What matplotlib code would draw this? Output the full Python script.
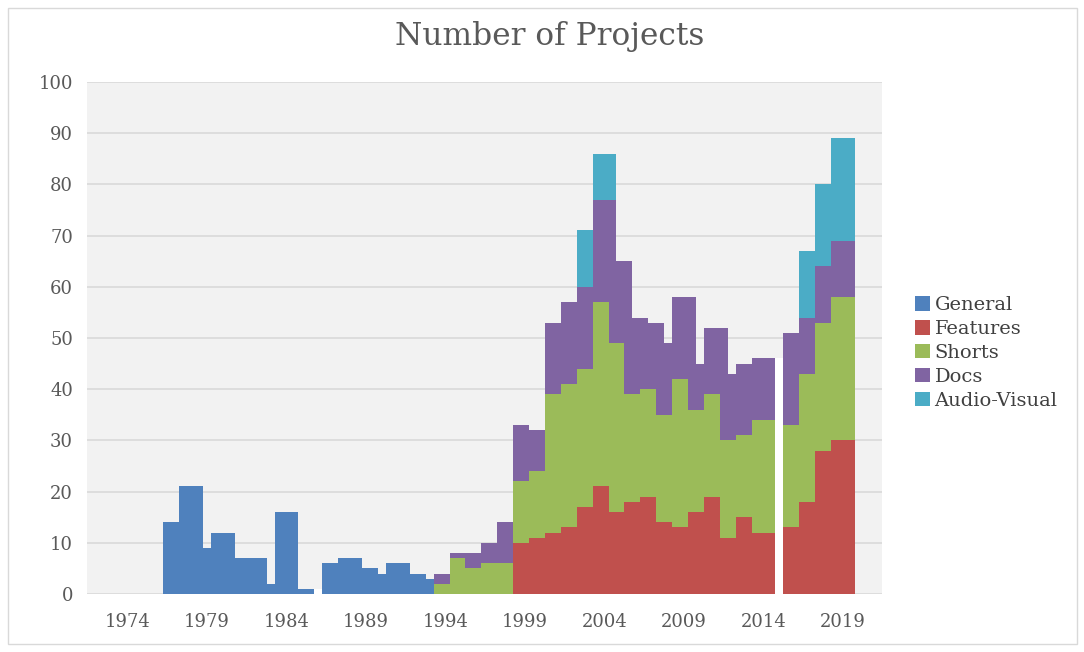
import numpy as np
import pandas as pd
import matplotlib
matplotlib.use("Agg")
import matplotlib.pyplot as plt
from matplotlib.patches import Patch, Rectangle

# half-year periods, 1976.5 ... 2019.5
periods = np.arange(1976.5, 2019.51, 0.5)

# each series starts at its own period
general_start = 1976.5
general = [14, 14, 21, 21, 21, 9, 12, 12, 12, 7, 7, 7, 7, 2, 16, 16, 16, 1, 1, 0,
           6, 6, 7, 7, 7, 5, 5, 4, 6, 6, 6, 4, 4, 3]

features_start = 1998.5
features = [10, 10, 11, 11, 12, 12, 13, 13, 17, 17, 21, 21, 16, 16, 18, 18, 19, 19,
            14, 14, 13, 13, 16, 16, 19, 19, 11, 11, 15, 15, 12, 12, 12, 0,
            13, 13, 18, 18, 28, 28, 30, 30, 30]

shorts_start = 1993.5
shorts = [2, 2, 7, 7, 5, 5, 6, 6, 6, 6, 12, 12, 13, 13, 27, 27, 28, 28, 27, 27,
          36, 36, 33, 33, 21, 21, 21, 21, 21, 21, 29, 29, 20, 20, 20, 20, 19, 19,
          16, 16, 22, 22, 22, 0, 20, 20, 25, 25, 25, 25, 28, 28, 28]

docs_start = 1993.5
docs = [2, 2, 1, 1, 3, 3, 4, 4, 8, 8, 11, 11, 8, 8, 14, 14, 16, 16, 16, 16,
        20, 20, 28, 16, 26, 15, 14, 13, 18, 14, 16, 16, 22, 9, 13, 13, 22, 13,
        14, 14, 12, 12, 12, 0, 18, 18, 11, 11, 11, 11, 11, 11, 11]

av_start = 2002.5
av = [11, 11, 9, 9, 9, 0, 0, 0, 0, 0, 0, 0, 0, 0, 0, 0, 0, 0, 0, 0, 0, 0, 0, 0,
      0, 0, 0, 0, 13, 13, 16, 16, 20, 20, 20]

names = ["General", "Features", "Shorts", "Docs", "Audio-Visual"]
colors = ["#4F81BD", "#C0504D", "#9BBB59", "#8064A2", "#4BACC6"]
year_ticks = list(range(1974, 2020, 5))

df = pd.DataFrame(0.0, index=periods, columns=names)
for name, start, vals in [("General", general_start, general),
                          ("Features", features_start, features),
                          ("Shorts", shorts_start, shorts),
                          ("Docs", docs_start, docs),
                          ("Audio-Visual", av_start, av)]:
    i0 = int(round((start - periods[0]) * 2))
    df.iloc[i0:i0 + len(vals), names.index(name)] = vals

W, H = 1084, 652
fig = plt.figure(figsize=(W / 100, H / 100), dpi=100)
plt.rcParams["font.family"] = ["DejaVu Serif"]
ax = fig.add_axes([87 / W, 58 / H, 795 / W, 512 / H])
ax.set_facecolor("#F2F2F2")

bottom = np.zeros(len(periods))
for name, color in zip(names, colors):
    ax.bar(periods, df[name].values, width=0.5, bottom=bottom, color=color,
           linewidth=0, antialiased=False, zorder=2)
    bottom += df[name].values

# white break where a period has no projects between two filled ones
total = bottom
for i in range(1, len(total) - 1):
    if total[i] == 0 and total[i - 1] > 0 and total[i + 1] > 0:
        ax.bar(periods[i], min(total[i - 1], total[i + 1]), width=0.5,
               color="white", linewidth=0, antialiased=False, zorder=2)

ax.set_xlim(1971.45, 2021.45)
ax.set_ylim(0, 100)
ax.set_yticks(range(0, 101, 10))
ax.set_xticks(year_ticks)
ax.yaxis.grid(True, color="#D9D9D9", linewidth=1.2)
ax.set_axisbelow(True)
for s in ax.spines.values():
    s.set_visible(False)
ax.tick_params(length=0, labelsize=13, colors="#595959")
ax.tick_params(axis="y", pad=10)
ax.tick_params(axis="x", pad=14)

fig.text(550 / W, 1 - 36 / H, "Number of Projects", ha="center", va="center",
         fontsize=22.5, color="#595959")

handles = [Patch(facecolor=c, edgecolor="none") for c in colors]
fig.legend(handles, names, loc="center left", bbox_to_anchor=(915 / W, 1 - 353 / H),
           frameon=False, fontsize=14, handlelength=0.75, handleheight=0.75,
           handletextpad=0.25, labelspacing=0.3, borderpad=0, borderaxespad=0,
           labelcolor="#404040")

fig.patches.append(Rectangle((8 / W, 8 / H), 1069 / W, 636 / H, transform=fig.transFigure,
                             fill=False, edgecolor="#D9D9D9", linewidth=1))

fig.savefig("out.png", dpi=100, facecolor="white")
